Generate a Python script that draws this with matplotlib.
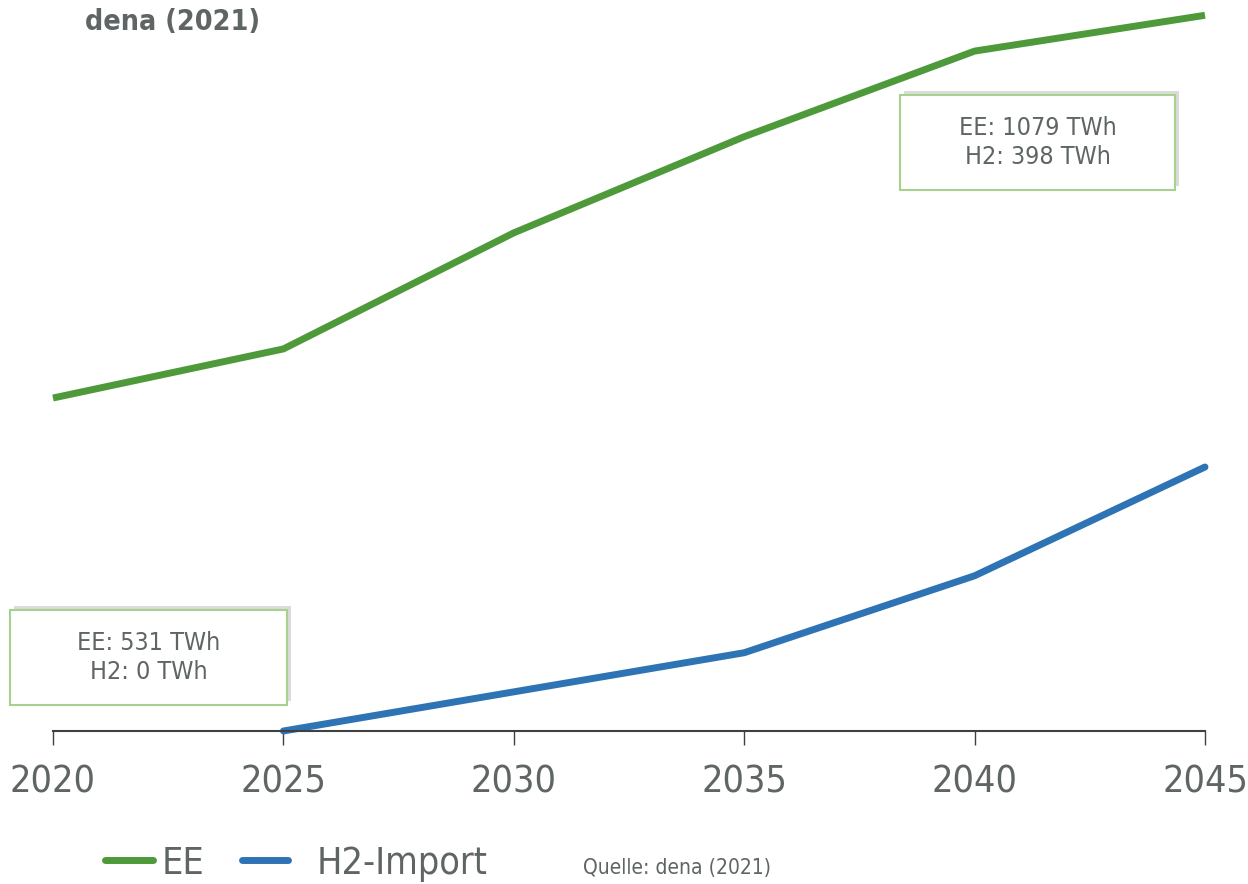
import matplotlib
matplotlib.use("Agg")
import matplotlib.pyplot as plt
import matplotlib.patheffects as pe
from matplotlib.patches import Rectangle

# values (TWh)
years = [2020, 2025, 2030, 2035, 2040, 2045]
ee = [502, 576, 751, 896, 1025, 1079]
h2_years = [2025, 2030, 2035, 2040, 2045]
h2 = [0, 59, 118, 234, 398]

GREEN = "#4e9a3b"
BLUE = "#2e74b5"
GREY = "#5f6565"
BOX_EDGE = "#a9d18e"
FONT = dict(family="DejaVu Sans", stretch="condensed")

fig = plt.figure(figsize=(12.48, 8.84), dpi=100)
W, H = 1248, 884

# axes: x 2020 -> px 53, 2045 -> px 1205; baseline at px 731, top at px 0
ax = fig.add_axes([53 / W, 1 - 731 / H, (1205 - 53) / W, 731 / H])
ax.set_xlim(2020, 2045)
ax.set_ylim(0, 731 * 398 / 264)

ax.plot(years, ee, color=GREEN, lw=5, clip_on=False, solid_capstyle="butt")
ax.plot(h2_years, h2, color=BLUE, lw=5, clip_on=False, solid_capstyle="round")

for s in ("top", "right", "left"):
    ax.spines[s].set_visible(False)
ax.spines["bottom"].set_color("#404040")
ax.spines["bottom"].set_linewidth(1.5)
ax.set_yticks([])
ax.set_xticks(years)
ax.tick_params(axis="x", direction="out", length=10, width=1, color="#404040",
               pad=14, labelsize=27, labelcolor=GREY)
for lab in ax.get_xticklabels():
    lab.set_fontstretch("condensed")

# title
fig.text(85 / W, 1 - 22 / H, "dena (2021)", fontsize=20.5, fontweight="bold",
         color=GREY, ha="left", va="center", **FONT)


def info_box(x0, y0, x1, y1, lines):
    r = Rectangle((x0 / W, 1 - y1 / H), (x1 - x0) / W, (y1 - y0) / H,
                  transform=fig.transFigure, facecolor="white", edgecolor=BOX_EDGE,
                  lw=1.5, zorder=5,
                  path_effects=[pe.SimplePatchShadow(offset=(3, 3), shadow_rgbFace="#9a9a9a",
                                                      alpha=0.35), pe.Normal()])
    fig.add_artist(r)
    fig.text((x0 + x1) / 2 / W, 1 - (y0 + y1) / 2 / H, lines, fontsize=18,
             color=GREY, ha="center", va="center", linespacing=1.3, zorder=6, **FONT)


info_box(900, 95, 1175, 190, "EE: 1079 TWh\nH2: 398 TWh")
info_box(10, 610, 287, 705, "EE: 531 TWh\nH2: 0 TWh")

# legend
fig.add_artist(plt.Line2D([105 / W, 153 / W], [1 - 860 / H] * 2, color=GREEN, lw=5,
                          solid_capstyle="round", transform=fig.transFigure))
fig.text(162 / W, 1 - 864 / H, "EE", fontsize=27, color=GREY, ha="left", va="center", **FONT)
fig.add_artist(plt.Line2D([242 / W, 288 / W], [1 - 860 / H] * 2, color=BLUE, lw=5,
                          solid_capstyle="round", transform=fig.transFigure))
fig.text(317 / W, 1 - 864 / H, "H2-Import", fontsize=27, color=GREY, ha="left", va="center",
         **FONT)
fig.text(583 / W, 1 - 868 / H, "Quelle: dena (2021)", fontsize=15, color=GREY, ha="left",
         va="center", **FONT)

fig.savefig("out.png", dpi=100)
